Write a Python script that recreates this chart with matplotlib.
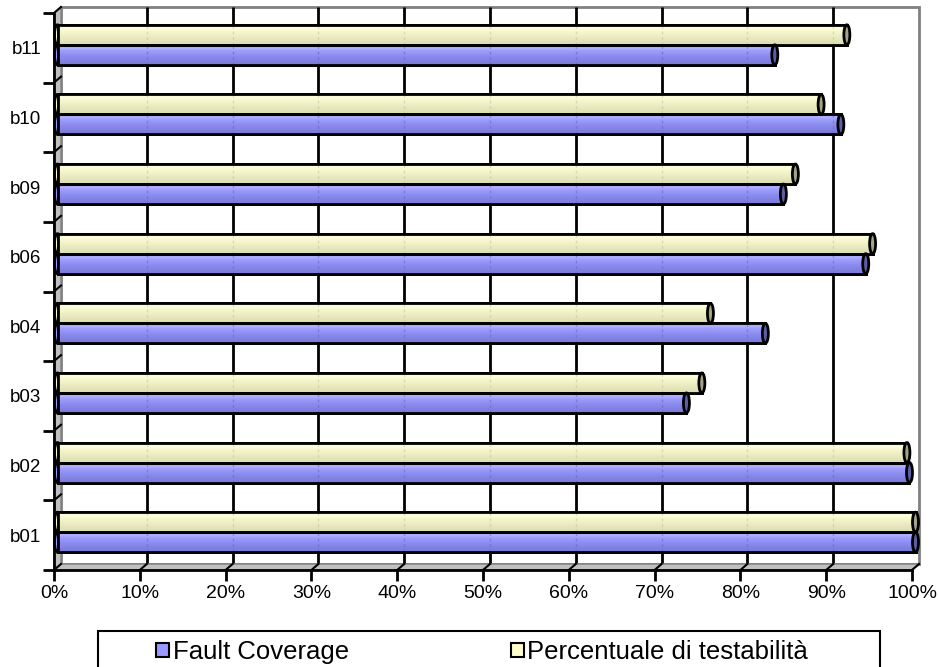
import numpy as np
import matplotlib
matplotlib.use("Agg")
import matplotlib.pyplot as plt
from matplotlib.patches import Rectangle, Ellipse, Polygon
from matplotlib.colors import LinearSegmentedColormap

categories = ["b01", "b02", "b03", "b04", "b06", "b09", "b10", "b11"]
fault_coverage = [100.0, 99.3, 73.3, 82.5, 94.2, 84.6, 91.3, 83.6]
testabilita = [100.0, 99.0, 75.1, 76.1, 95.0, 86.0, 89.0, 92.0]
x_ticks = list(range(0, 101, 10))

plt.rcParams["font.family"] = ["Liberation Sans", "DejaVu Sans"]

W, H = 938, 667
fig = plt.figure(figsize=(W / 100, H / 100), dpi=100)
ax = fig.add_axes([54 / W, (H - 570) / H, 858 / W, 557 / H])
n = len(categories)
ax.set_xlim(0, 100)
ax.set_ylim(-0.5, n - 0.5)

# pixel -> data conversion for the fake 3D depth
px_x = 858 / 100
px_y = 557 / n
DX, DY = 7 / px_x, 6 / px_y      # back wall offset
BX, BY = 3.5 / px_x, 3 / px_y    # bars sit halfway in depth
bh = 20 / px_y
y0, y1 = -0.5, n - 0.5

wall_fc, wall_ec = "#c0c0c0", "#808080"

# back wall + gridlines
ax.add_patch(Rectangle((DX, y0 + DY), 100, n, facecolor="white",
                       edgecolor=wall_ec, lw=2, zorder=0, clip_on=False))
for t in x_ticks[1:-1]:
    ax.plot([t + DX, t + DX], [y0 + DY, y1 + DY], color="black", lw=2,
            zorder=0.5, clip_on=False, solid_capstyle="butt")

# side wall
ax.add_patch(Polygon([(0, y0), (0, y1), (DX, y1 + DY), (DX, y0 + DY)],
                     closed=True, facecolor=wall_fc, edgecolor=wall_ec,
                     lw=1, zorder=0.6, clip_on=False))
# floor
ax.add_patch(Polygon([(0, y0), (100, y0), (100 + DX, y0 + DY), (DX, y0 + DY)],
                     closed=True, facecolor=wall_fc, edgecolor=wall_ec,
                     lw=1, zorder=0.6, clip_on=False))
for t in x_ticks[1:]:
    ax.plot([t, t + DX], [y0, y0 + DY], color="black", lw=1.5,
            zorder=0.7, clip_on=False)
# left wall ticks running to the back
for k in range(n + 1):
    ax.plot([0, DX], [y0 + k, y0 + k + DY], color="black", lw=1.5,
            zorder=0.7, clip_on=False)

blue_cmap = LinearSegmentedColormap.from_list(
    "blue", [(0, "#7878d8"), (0.45, "#8c8cf0"), (0.75, "#a0a0ff"), (0.85, "#b4b4ff"), (1, "#9090f0")])
yellow_cmap = LinearSegmentedColormap.from_list(
    "yellow", [(0, "#dcdcb0"), (0.45, "#eeeec4"), (0.75, "#fafad2"), (0.85, "#ffffe0"), (1, "#f0f0c8")])
grad = np.linspace(0, 1, 64).reshape(-1, 1)


def cylinders(values, offset, cmap, body, cap_color, grid_color):
    ys = np.arange(n) + BY + offset
    bars = ax.barh(ys, values, height=bh, left=BX, facecolor=body,
                   edgecolor="black", lw=2, zorder=2, clip_on=False)
    ew = 6 / px_x
    for rect, v, y in zip(bars.patches, values, ys):
        ax.add_patch(Ellipse((BX, y), ew, bh, facecolor=body, edgecolor="black",
                             lw=2, zorder=1.9, clip_on=False))
        im = ax.imshow(grad, cmap=cmap, aspect="auto", origin="lower",
                       extent=(BX, BX + v, y - bh / 2, y + bh / 2),
                       zorder=2.1, interpolation="bilinear")
        im.set_clip_path(rect)
        # gridlines faintly showing through the cylinder
        for t in x_ticks[1:-1]:
            if t + DX < BX + v - 0.5:
                ax.plot([t + DX, t + DX], [y - bh / 2, y + bh / 2], color=grid_color,
                        lw=1, ls=(0, (2, 2)), alpha=0.6, zorder=2.15)
        ax.add_patch(Rectangle((BX, y - bh / 2), v, bh, fill=False,
                               edgecolor="black", lw=2, zorder=2.2, clip_on=False))
        ax.add_patch(Ellipse((BX + v, y), ew, bh, facecolor=cap_color,
                             edgecolor="black", lw=2, zorder=2.3, clip_on=False))
    return bars


cylinders(fault_coverage, -bh / 2, blue_cmap, "#9999ff", "#5e5ea8", "#6a6ac0")
cylinders(testabilita, bh / 2, yellow_cmap, "#ffffcc", "#a4a484", "#c8c8a0")

ax.set_xlim(0, 100)
ax.set_ylim(y0, y1)
ax.set_facecolor("none")

for s in ["top", "right"]:
    ax.spines[s].set_visible(False)
for s in ["left", "bottom"]:
    ax.spines[s].set_linewidth(2)
    ax.spines[s].set_zorder(3)

ax.set_xticks(x_ticks)
ax.set_xticklabels([f"{t}%" for t in x_ticks])
ax.set_yticks(np.arange(n + 1) - 0.5)
ax.set_yticklabels([])
ax.set_yticks(np.arange(n), categories, minor=True)
ax.tick_params(axis="both", which="major", length=8, width=2, direction="out",
               labelsize=14, pad=3)
ax.tick_params(axis="y", which="minor", length=0, labelsize=13.5, pad=9)

# legend box
fig.patches.append(Rectangle((98 / W, -0.05), 782 / W, (H - 631) / H + 0.05,
                             transform=fig.transFigure, facecolor="white",
                             edgecolor="black", lw=1.5))
handles = [Rectangle((0, 0), 1, 1, facecolor="#9999ff", edgecolor="black", lw=1.5),
           Rectangle((0, 0), 1, 1, facecolor="#ffffcc", edgecolor="black", lw=1.5)]
fig.legend(handles, ["Fault Coverage", "Percentuale di testabilità"], ncol=2,
           loc="center left", bbox_to_anchor=(156 / W, (H - 652) / H),
           frameon=False, fontsize=18.5, handlelength=0.5, handleheight=0.5,
           handletextpad=0.15, columnspacing=6.3, borderpad=0, borderaxespad=0)

fig.savefig("out.png", dpi=100)
